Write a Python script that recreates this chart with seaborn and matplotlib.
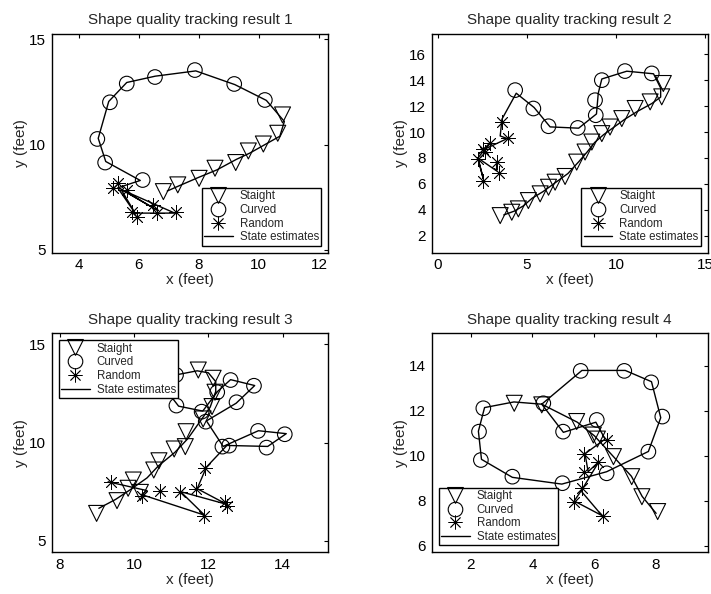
import matplotlib
matplotlib.use("Agg")
import matplotlib.pyplot as plt
import numpy as np
import pandas as pd
import seaborn as sns
from matplotlib.lines import Line2D

# Data (feet)
# --- result 1 ---
s1_x = [6.82, 7.30, 8.01, 8.54, 9.23, 9.65, 10.15, 10.63, 10.79]
s1_y = [7.77, 8.09, 8.40, 8.88, 9.15, 9.70, 10.03, 10.54, 11.41]
c1_x = [10.20, 9.18, 7.87, 6.54, 5.60, 5.04, 4.62, 4.88, 6.13]
c1_y = [12.12, 12.88, 13.54, 13.21, 12.90, 12.01, 10.27, 9.15, 8.32]
r1_x = [5.32, 5.15, 5.93, 5.60, 6.49, 5.76, 7.24, 6.60]
r1_y = [8.16, 7.93, 6.58, 7.85, 7.14, 6.82, 6.82, 6.74]
e1_x = [6.95, 7.35, 8.0, 8.6, 9.25, 9.7, 10.2, 10.7, 10.85, 10.25, 9.2, 7.9, 6.55,
        5.6, 5.0, 4.65, 4.9, 6.05, 5.3, 5.9, 5.4, 6.6, 5.45, 7.2, 5.85]
e1_y = [7.8, 8.05, 8.45, 8.8, 9.3, 9.6, 10.0, 10.4, 11.1, 12.1, 12.85, 13.5, 13.25,
        12.95, 12.05, 10.3, 9.2, 8.3, 7.95, 6.7, 7.9, 6.9, 7.85, 6.75, 6.75]

# --- result 2 ---
s2_x = [3.50, 4.15, 4.52, 5.08, 5.74, 6.21, 6.58, 7.14, 7.79, 8.26, 8.64, 9.20,
        9.66, 10.32, 11.07, 11.91, 12.56, 12.65]
s2_y = [3.55, 3.81, 4.07, 4.71, 5.23, 5.74, 6.13, 6.57, 7.68, 8.46, 9.23, 9.88,
        10.39, 11.04, 11.82, 12.33, 12.72, 13.75]
c2_x = [12.0, 10.5, 9.2, 8.82, 8.86, 7.85, 6.21, 5.36, 4.34]
c2_y = [14.53, 14.71, 14.01, 12.46, 11.30, 10.32, 10.45, 11.82, 13.24]
r2_x = [3.59, 3.93, 2.93, 2.65, 2.56, 2.24, 2.56, 3.31, 3.44]
r2_y = [10.78, 9.57, 9.15, 8.46, 8.66, 7.94, 6.26, 7.68, 6.83]
e2_x = [3.7, 4.3, 4.8, 5.3, 5.9, 6.4, 6.8, 7.3, 7.9, 8.4, 8.8, 9.3, 9.8, 10.5, 11.2,
        12.0, 12.5, 12.5, 12.1, 10.6, 9.2, 9.0, 8.9, 7.9, 6.3, 5.4, 4.4, 3.6, 3.5,
        3.9, 2.5, 2.9, 2.25, 2.55, 2.25, 3.3, 3.3]
e2_y = [3.6, 3.9, 4.3, 4.9, 5.4, 5.9, 6.3, 6.8, 7.7, 8.5, 9.2, 9.8, 10.3, 11.0, 11.6,
        12.2, 12.7, 13.4, 14.5, 14.7, 14.1, 13.0, 11.4, 10.3, 10.4, 11.9, 13.0, 11.0,
        9.7, 9.5, 8.6, 9.1, 8.0, 6.4, 8.0, 7.0, 7.7]

# --- result 3 ---
s3_x = [8.99, 9.54, 9.84, 9.98, 10.17, 10.53, 10.67, 11.08, 11.38, 11.40, 11.86,
        12.10, 12.18, 12.13, 11.73]
s3_y = [6.39, 7.04, 7.67, 8.09, 7.46, 8.60, 9.07, 9.67, 9.79, 10.55, 11.20, 11.83,
        12.56, 13.27, 13.69]
c3_x = [11.13, 11.14, 11.82, 12.24, 12.60, 13.23, 12.76, 11.93, 12.38, 13.34, 14.06,
        13.57, 12.56]
c3_y = [13.44, 11.88, 11.57, 12.56, 13.18, 12.89, 12.05, 11.06, 9.79, 10.59, 10.42,
        9.74, 9.84]
r3_x = [11.91, 11.66, 12.49, 12.45, 11.23, 11.89, 10.20, 10.69, 9.37]
r3_y = [8.72, 7.61, 6.77, 6.99, 7.50, 6.27, 7.28, 7.53, 7.97]
e3_x = [9.05, 9.5, 9.9, 10.35, 10.65, 11.1, 11.45, 11.75, 12.05, 12.2, 12.2, 12.0,
        11.7, 11.15, 10.85, 11.2, 11.85, 12.25, 12.6, 13.25, 12.75, 11.95, 12.4, 13.35,
        14.1, 13.6, 12.5, 11.95, 11.7, 12.5, 11.25, 11.9, 10.2, 10.35, 9.3]
e3_y = [6.65, 7.1, 7.6, 8.2, 8.8, 9.5, 10.2, 11.0, 11.8, 12.6, 13.1, 13.55, 13.65,
        13.45, 12.7, 11.85, 11.6, 12.6, 13.2, 12.9, 12.0, 11.1, 9.8, 10.6, 10.45, 9.8,
        9.85, 8.75, 7.65, 6.85, 7.5, 6.3, 7.35, 7.55, 8.0]

# --- result 4 ---
s4_x = [3.41, 4.30, 5.43, 5.97, 6.10, 6.62, 7.21, 7.54, 8.05]
s4_y = [12.34, 12.27, 11.53, 10.93, 10.75, 9.97, 9.08, 8.19, 7.53]
c4_x = [4.35, 5.56, 6.97, 7.84, 8.20, 7.75, 6.40, 4.97, 3.35, 2.33, 2.27, 2.41, 4.99, 6.08]
c4_y = [12.34, 13.78, 13.78, 13.27, 11.75, 10.19, 9.23, 8.79, 9.08, 9.82, 11.08, 12.12,
        11.08, 11.60]
r4_x = [6.42, 5.68, 6.13, 5.68, 5.61, 5.33, 6.29]
r4_y = [10.71, 10.07, 9.75, 9.27, 8.56, 7.97, 7.35]
e4_x = [8.0, 7.55, 7.2, 6.6, 6.0, 5.45, 4.3, 5.6, 7.0, 7.85, 8.15, 7.75, 6.4, 4.95,
        3.35, 2.35, 2.25, 2.45, 3.4, 4.3, 5.0, 6.05, 6.35, 5.7, 5.8, 6.15, 5.6, 5.35,
        6.25, 5.6]
e4_y = [7.45, 8.2, 9.1, 10.0, 10.9, 11.5, 12.3, 13.8, 13.8, 13.3, 11.7, 10.2, 9.3,
        8.75, 9.05, 9.85, 11.1, 12.15, 12.4, 12.3, 11.05, 11.5, 10.75, 10.1, 9.3, 9.75,
        8.5, 8.0, 7.35, 8.4]

titles = ["Shape quality tracking result 1", "Shape quality tracking result 2",
          "Shape quality tracking result 3", "Shape quality tracking result 4"]
legend_labels = ["Staight", "Curved", "Random", "State estimates"]

panels = [
    (s1_x, s1_y, c1_x, c1_y, r1_x, r1_y, e1_x, e1_y),
    (s2_x, s2_y, c2_x, c2_y, r2_x, r2_y, e2_x, e2_y),
    (s3_x, s3_y, c3_x, c3_y, r3_x, r3_y, e3_x, e3_y),
    (s4_x, s4_y, c4_x, c4_y, r4_x, r4_y, e4_x, e4_y),
]
xlims = [(3.1, 12.31), (-0.34, 15.14), (7.78, 15.23), (0.74, 9.67)]
ylims = [(4.88, 15.25), (0.7, 17.57), (4.41, 15.56), (5.72, 15.45)]
xticks = [[4, 6, 8, 10, 12], [0, 5, 10, 15], [8, 10, 12, 14], [2, 4, 6, 8]]
yticks = [[5, 10, 15], [2, 4, 6, 8, 10, 12, 14, 16], [5, 10, 15], [6, 8, 10, 12, 14]]
legend_locs = ["lower right", "lower right", "upper left", "lower left"]

sns.set_style("white")
plt.rcParams['font.family'] = ['Liberation Sans', 'DejaVu Sans']

fig = plt.figure(figsize=(7.11, 5.94), dpi=100)
# axes positions (left, bottom, width, height) in figure fractions
positions = [
    [0.0727, 0.5749, 0.3889, 0.3678],
    [0.6072, 0.5749, 0.3882, 0.3678],
    [0.0727, 0.0702, 0.3889, 0.3687],
    [0.6072, 0.0702, 0.3882, 0.3687],
]

star = (8, 2, 0)
msize = 11.5
fs = 11

for i, (sx, sy, cx, cy, rx, ry, ex, ey) in enumerate(panels):
    ax = fig.add_axes(positions[i])
    sns.lineplot(x=ex, y=ey, sort=False, estimator=None, color="black",
                 linewidth=1.0, ax=ax)
    sns.scatterplot(x=sx, y=sy, marker="v", s=msize ** 2, facecolors="none",
                    edgecolors="black", linewidths=0.8, ax=ax)
    sns.scatterplot(x=cx, y=cy, marker="o", s=(msize - 1) ** 2, facecolors="none",
                    edgecolors="black", linewidths=0.8, ax=ax)
    # asterisk is an unfilled marker: give it a plain colour
    sns.scatterplot(x=rx, y=ry, marker=star, s=(msize - 1.5) ** 2, color="black",
                    linewidths=0.6, ax=ax)

    ax.set_xlim(xlims[i])
    ax.set_ylim(ylims[i])
    ax.set_xticks(xticks[i])
    ax.set_yticks(yticks[i])
    ax.tick_params(direction="in", top=True, right=True, length=3, width=0.8,
                   labelsize=fs, colors="black", pad=4)
    for sp in ax.spines.values():
        sp.set_color("black")
        sp.set_linewidth(1.0)
    ax.set_title(titles[i], fontsize=fs, pad=7)
    ax.set_xlabel("x (feet)", fontsize=fs, labelpad=1)
    ax.set_ylabel("y (feet)", fontsize=fs, labelpad=1)

    handles = [
        Line2D([], [], marker="v", linestyle="none", markersize=msize,
               markerfacecolor="none", markeredgecolor="black", markeredgewidth=0.8),
        Line2D([], [], marker="o", linestyle="none", markersize=msize - 1,
               markerfacecolor="none", markeredgecolor="black", markeredgewidth=0.8),
        Line2D([], [], marker=star, linestyle="none", markersize=msize - 1.5,
               markerfacecolor="none", markeredgecolor="black", markeredgewidth=0.6),
        Line2D([], [], color="black", linewidth=1.0),
    ]
    leg = ax.legend(handles, legend_labels, loc=legend_locs[i], fontsize=8.3,
                    frameon=True, fancybox=False, framealpha=1, edgecolor="black",
                    borderpad=0.2, labelspacing=0.15, handlelength=2.5,
                    handletextpad=0.6, borderaxespad=0.6, numpoints=1)
    leg.get_frame().set_linewidth(1.0)

fig.savefig("out.png", dpi=100)
